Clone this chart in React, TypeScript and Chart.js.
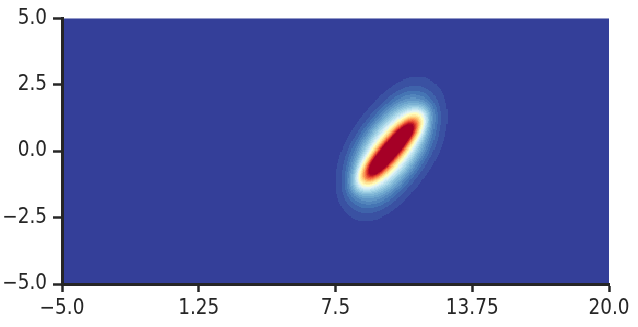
import React, { useEffect, useRef } from "react";
import { Chart, registerables } from "chart.js";

Chart.register(...registerables);

// ---- axes ----
const X_RANGE = [-5, 20];
const Y_RANGE = [-5, 5];
const X_TICKS = [-5, 1.25, 7.5, 13.75, 20];
const X_TICK_LABELS = ["\u22125.0", "1.25", "7.5", "13.75", "20.0"];
const Y_TICKS = [-5, -2.5, 0, 2.5, 5];
const Y_TICK_LABELS = ["\u22125.0", "\u22122.5", "0.0", "2.5", "5.0"];

// ---- density surface: a ridge segment smoothed by two gaussian kernels ----
// shape units: x and y in data units are rescaled by SHAPE_UNIT before use
const SHAPE_UNIT = [21.87, 26.83];
const RIDGE_CENTER = [10.06, 0.08];
const RIDGE_ANGLE = 49; // degrees, in shape units
const RIDGE_HALF_LENGTH = 39;
const KERNEL_WEIGHT = [0.55, 0.45];
const KERNEL_ANGLE = [49, 74];
const KERNEL_SD_MAJOR = [11, 23.7];
const KERNEL_SD_MINOR = [7, 16];
const LEVEL_COUNT = 35;
const COLOR_CLIP = 0.685;
const GRID_STEP_X = 0.05;
const GRID_STEP_Y = 0.04;

// RdYlBu_r
const CMAP = [
  "#313695", "#4575b4", "#74add1", "#abd9e9", "#e0f3f8", "#ffffbf",
  "#fee090", "#fdae61", "#f46d43", "#d73027", "#a50026",
];

const INK = "#262626";
const FONT_FAMILY = '"DejaVu Sans Condensed", "DejaVu Sans", sans-serif';

function hexToRgb(h: string) {
  const n = parseInt(h.slice(1), 16);
  return [(n >> 16) & 255, (n >> 8) & 255, n & 255];
}
const CMAP_RGB = CMAP.map(hexToRgb);

function cmap(t: number) {
  const tt = Math.max(0, Math.min(1, t)) * (CMAP_RGB.length - 1);
  const i = Math.min(CMAP_RGB.length - 2, Math.floor(tt));
  const f = tt - i;
  const a = CMAP_RGB[i], b = CMAP_RGB[i + 1];
  const c = [0, 1, 2].map((k) => Math.round(a[k] + (b[k] - a[k]) * f));
  return `rgb(${c[0]},${c[1]},${c[2]})`;
}

const BAND_COLORS: string[] = [];
for (let k = 0; k < LEVEL_COUNT; k++) BAND_COLORS.push(cmap((k + 0.5) / LEVEL_COUNT));
const TOP_COLOR = cmap(1);

function erf(x: number) {
  const s = x < 0 ? -1 : 1;
  const ax = Math.abs(x);
  const t = 1 / (1 + 0.3275911 * ax);
  const y =
    1 -
    ((((1.061405429 * t - 1.453152027) * t + 1.421413741) * t - 0.284496736) * t + 0.254829592) *
      t *
      Math.exp(-ax * ax);
  return s * y;
}
const phi = (z: number) => 0.5 * (1 + erf(z / Math.SQRT2));

const deg = Math.PI / 180;
const RU = [Math.cos(RIDGE_ANGLE * deg), Math.sin(RIDGE_ANGLE * deg)];
const KERNELS = KERNEL_WEIGHT.map((w, k) => {
  const t = KERNEL_ANGLE[k] * deg;
  const e1 = [Math.cos(t), Math.sin(t)];
  const e2 = [-Math.sin(t), Math.cos(t)];
  const ia = 1 / (KERNEL_SD_MAJOR[k] * KERNEL_SD_MAJOR[k]);
  const ib = 1 / (KERNEL_SD_MINOR[k] * KERNEL_SD_MINOR[k]);
  const bil = (p: number[], q: number[]) =>
    (p[0] * e1[0] + p[1] * e1[1]) * (q[0] * e1[0] + q[1] * e1[1]) * ia +
    (p[0] * e2[0] + p[1] * e2[1]) * (q[0] * e2[0] + q[1] * e2[1]) * ib;
  const alpha = bil(RU, RU);
  return { w, bil, alpha };
});

function density(x: number, y: number) {
  const wv = [(x - RIDGE_CENTER[0]) * SHAPE_UNIT[0], (y - RIDGE_CENTER[1]) * SHAPE_UNIT[1]];
  let s = 0;
  for (const k of KERNELS) {
    const gamma = k.bil(wv, wv);
    const beta = k.bil(RU, wv);
    const ra = Math.sqrt(k.alpha);
    const m = beta / k.alpha;
    const along = phi(ra * (RIDGE_HALF_LENGTH - m)) - phi(ra * (-RIDGE_HALF_LENGTH - m));
    s += k.w * Math.exp(-0.5 * (gamma - beta * m)) * along;
  }
  return s;
}

const heatPlugin = {
  id: "heat",
  beforeDraw(chart: any) {
    const { ctx, chartArea: a } = chart;
    const xs = chart.scales.x;
    const ys = chart.scales.y;
    ctx.save();
    ctx.beginPath();
    ctx.rect(a.left, a.top, a.right - a.left, a.bottom - a.top);
    ctx.clip();
    ctx.fillStyle = BAND_COLORS[0];
    ctx.fillRect(a.left, a.top, a.right - a.left, a.bottom - a.top);
    const nx = Math.round((X_RANGE[1] - X_RANGE[0]) / GRID_STEP_X);
    const ny = Math.round((Y_RANGE[1] - Y_RANGE[0]) / GRID_STEP_Y);
    for (let i = 0; i < nx; i++) {
      const x0 = X_RANGE[0] + i * GRID_STEP_X;
      const x1 = x0 + GRID_STEP_X;
      const px0 = Math.floor(xs.getPixelForValue(x0));
      const px1 = Math.ceil(xs.getPixelForValue(x1));
      for (let j = 0; j < ny; j++) {
        const y0 = Y_RANGE[0] + j * GRID_STEP_Y;
        const y1 = y0 + GRID_STEP_Y;
        const c = density(x0 + GRID_STEP_X / 2, y0 + GRID_STEP_Y / 2) / COLOR_CLIP;
        let color: string;
        if (c >= 1) color = TOP_COLOR;
        else {
          const k = Math.floor(c * LEVEL_COUNT);
          if (k <= 0) continue;
          color = BAND_COLORS[k];
        }
        const py0 = Math.floor(ys.getPixelForValue(y1));
        const py1 = Math.ceil(ys.getPixelForValue(y0));
        ctx.fillStyle = color;
        ctx.fillRect(px0, py0, px1 - px0, py1 - py0);
      }
    }
    ctx.restore();
  },
};

export default function App() {
  const ref = useRef<HTMLCanvasElement>(null);
  useEffect(() => {
    document.body.style.margin = "0";
    const canvas = ref.current!;
    const axisCommon = (ticks: number[], labels: string[], tickLen: number, pad: number) => ({
      type: "linear" as const,
      afterBuildTicks: (s: any) => {
        s.ticks = ticks.map((v) => ({ value: v }));
      },
      ticks: {
        callback: (_v: any, i: number) => labels[i],
        color: INK,
        font: { family: FONT_FAMILY, size: 20.5 },
        padding: pad,
        autoSkip: false,
        maxRotation: 0,
      },
      grid: {
        display: true,
        drawOnChartArea: false,
        drawTicks: true,
        tickLength: tickLen,
        tickWidth: 2.5,
        tickColor: INK,
      },
      border: { display: true, color: INK, width: 3, z: 1 },
    });
    const chart = new Chart(canvas, {
      type: "scatter",
      data: { datasets: [{ data: [] }] },
      options: {
        responsive: false,
        animation: false,
        devicePixelRatio: 1,
        layout: { padding: { top: 16, right: 29, left: 0, bottom: 0 } },
        plugins: { legend: { display: false }, tooltip: { enabled: false } },
        scales: {
          x: {
            ...axisCommon(X_TICKS, X_TICK_LABELS, 8, 4),
            min: X_RANGE[0],
            max: X_RANGE[1],
            afterFit: (s: any) => {
              s.height = 43;
            },
          },
          y: {
            ...axisCommon(Y_TICKS, Y_TICK_LABELS, 9, 6),
            min: Y_RANGE[0],
            max: Y_RANGE[1],
            afterFit: (s: any) => {
              s.width = 62;
            },
          },
        },
      } as any,
      plugins: [heatPlugin],
    });
    return () => chart.destroy();
  }, []);
  return (
    <div style={{ width: 638, height: 327 }}>
      <canvas ref={ref} width={638} height={327} />
    </div>
  );
}
